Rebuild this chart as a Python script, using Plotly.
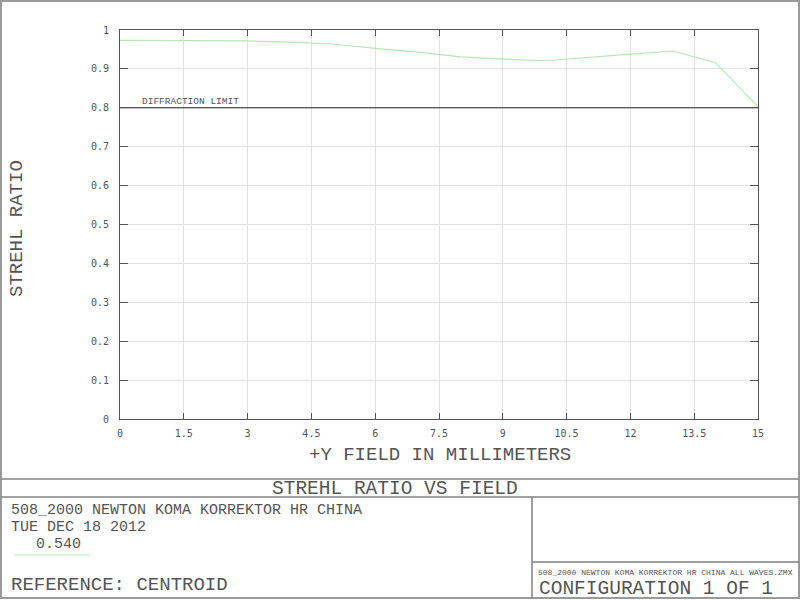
import plotly.graph_objects as go

# ---- data ----
field_mm = [0, 1, 2, 3, 4, 5, 6, 7, 8, 9, 10, 11, 12, 13, 14, 15]
strehl = [0.9735, 0.9735, 0.973, 0.972, 0.969, 0.964, 0.953, 0.943, 0.931,
          0.925, 0.921, 0.930, 0.938, 0.946, 0.916, 0.803]
diffraction_limit = 0.8
x_ticks = [0, 1.5, 3, 4.5, 6, 7.5, 9, 10.5, 12, 13.5, 15]
x_tick_labels = ["0", "1.5", "3", "4.5", "6", "7.5", "9", "10.5", "12", "13.5", "15"]
y_ticks = [0, 0.1, 0.2, 0.3, 0.4, 0.5, 0.6, 0.7, 0.8, 0.9, 1]
y_tick_labels = ["0", "0.1", "0.2", "0.3", "0.4", "0.5", "0.6", "0.7", "0.8", "0.9", "1"]

W, H = 800, 600
L, R, T, B = 120, 758, 30, 419
MONO = "Liberation Mono"
TICKF = "DejaVu Sans Mono"
TXT = "#555555"
CURVE = "#b8e6b8"


def px(x):
    return (x - L) / (R - L)


def py(y):
    return (B - y) / (B - T)


fig = go.Figure()
fig.add_trace(go.Scatter(x=field_mm, y=strehl, mode="lines",
                         line=dict(color=CURVE, width=1.2), showlegend=False,
                         hoverinfo="skip"))
fig.add_trace(go.Scatter(x=[field_mm[0], field_mm[-1]],
                         y=[diffraction_limit, diffraction_limit], mode="lines",
                         line=dict(color="#222222", width=1), showlegend=False,
                         hoverinfo="skip"))

axis_common = dict(showline=True, linecolor="#555555", linewidth=1, mirror="ticks",
                   ticks="inside", tickcolor="#555555", showgrid=True,
                   gridcolor="#e2e2e2", gridwidth=1, zeroline=False,
                   tickfont=dict(family=TICKF, size=10, color=TXT))
fig.update_xaxes(range=[0, 15], tickvals=x_ticks, ticktext=x_tick_labels,
                 ticklen=6, ticklabelstandoff=5, **axis_common)
fig.update_yaxes(range=[0, 1], tickvals=y_ticks, ticktext=y_tick_labels,
                 ticklen=8, ticklabelstandoff=8, **axis_common)

shapes = []
# outer frame
shapes.append(dict(type="rect", xref="paper", yref="paper", x0=px(1), x1=px(799),
                   y0=py(1), y1=py(598), line=dict(color="#9a9a9a", width=2)))
for yline in (479, 497):
    shapes.append(dict(type="line", xref="paper", yref="paper", x0=px(1), x1=px(799),
                       y0=py(yline), y1=py(yline), line=dict(color="#808080", width=1.5)))
shapes.append(dict(type="line", xref="paper", yref="paper", x0=px(532), x1=px(532),
                   y0=py(497), y1=py(598), line=dict(color="#808080", width=1.5)))
shapes.append(dict(type="line", xref="paper", yref="paper", x0=px(532), x1=px(799),
                   y0=py(562), y1=py(562), line=dict(color="#808080", width=1.5)))
# legend sample line
shapes.append(dict(type="line", xref="paper", yref="paper", x0=px(15), x1=px(90),
                   y0=py(555), y1=py(555), line=dict(color=CURVE, width=1.2)))


def ann(text, x, y, size, xanchor="left", yanchor="middle", textangle=0, family=MONO):
    return dict(text=text, xref="paper", yref="paper", x=px(x), y=py(y),
                xanchor=xanchor, yanchor=yanchor, showarrow=False, textangle=textangle,
                font=dict(family=family, size=size, color=TXT))


annotations = [
    ann("DIFFRACTION LIMIT", 140, 101, 9.5),
    ann("+Y FIELD IN MILLIMETERS", 440, 455, 19, xanchor="center"),
    ann("STREHL RATIO", 17, 229, 19, xanchor="center", textangle=-90),
    ann("STREHL RATIO VS FIELD", 395, 489, 19.5, xanchor="center"),
    ann("508_2000 NEWTON KOMA KORREKTOR HR CHINA", 9, 510.5, 15),
    ann("TUE DEC 18 2012", 9, 527, 15),
    ann("0.540", 34, 544, 15),
    ann("REFERENCE: CENTROID", 9, 585, 19),
    ann("508_2000 NEWTON KOMA KORREKTOR HR CHINA ALL WAVES.ZMX", 536, 572.5, 8),
    ann("CONFIGURATION 1 OF 1", 537, 589, 19.5),
]

fig.update_layout(width=W, height=H, autosize=False,
                  margin=dict(l=L, r=W - R, t=T, b=H - B),
                  paper_bgcolor="white", plot_bgcolor="white",
                  shapes=shapes, annotations=annotations)

fig.write_html("out.html", config={"displayModeBar": False},
               post_script="document.body.style.margin='0';document.body.style.overflow='hidden';")
